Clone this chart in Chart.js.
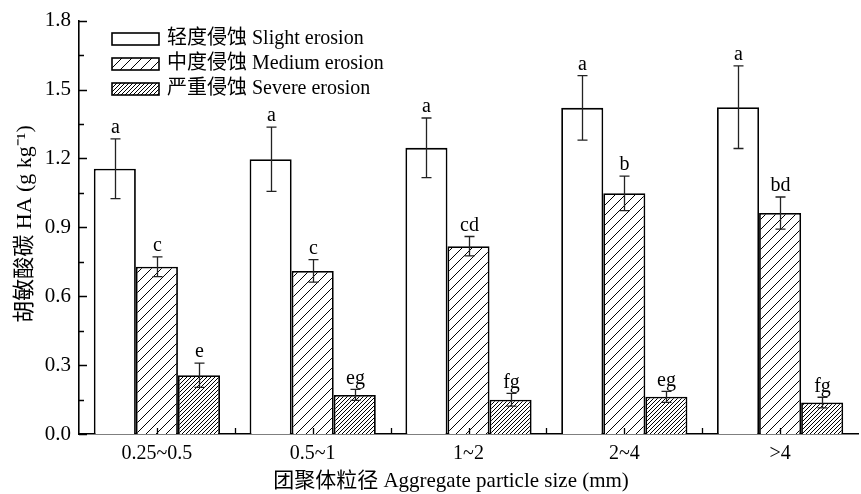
<!DOCTYPE html>
<html>
<head>
<meta charset="utf-8">
<script src="https://cdn.jsdelivr.net/npm/chart.js@4/dist/chart.umd.min.js"></script>
<style>
    html, body { margin: 0; padding: 0; background: #fff; }
    canvas { display: block; }
</style>
</head>
<body>
<canvas id="chart" width="861" height="494"></canvas>
<script>
const categories = ["0.25~0.5", "0.5~1", "1~2", "2~4", ">4"];

const slight = [1.155, 1.196, 1.246, 1.420, 1.423];
const slightErr = [0.13, 0.14, 0.13, 0.14, 0.18];
const slightLetters = ["a", "a", "a", "a", "a"];

const medium = [0.728, 0.710, 0.818, 1.048, 0.962];
const mediumErr = [0.043, 0.049, 0.042, 0.075, 0.070];
const mediumLetters = ["c", "c", "cd", "b", "bd"];

const severe = [0.256, 0.170, 0.149, 0.162, 0.137];
const severeErr = [0.053, 0.024, 0.028, 0.024, 0.023];
const severeLetters = ["e", "eg", "fg", "eg", "fg"];

const seriesLabels = ["轻度侵蚀 Slight erosion", "中度侵蚀 Medium erosion", "严重侵蚀 Severe erosion"];
const yTicks = [0, 0.3, 0.6, 0.9, 1.2, 1.5, 1.8];

const errors = [slightErr, mediumErr, severeErr];
const letters = [slightLetters, mediumLetters, severeLetters];

const FONT = "'Liberation Serif', 'Times New Roman', 'Noto Sans CJK SC', serif";

function hatch(step) {
    const c = document.createElement("canvas");
    c.width = step;
    c.height = step;
    const g = c.getContext("2d");
    g.fillStyle = "#fff";
    g.fillRect(0, 0, step, step);
    g.strokeStyle = "#000";
    g.lineWidth = 1;
    g.beginPath();
    g.moveTo(-1, step + 1);
    g.lineTo(step + 1, -1);
    g.moveTo(-1, 1);
    g.lineTo(1, -1);
    g.moveTo(step - 1, step + 1);
    g.lineTo(step + 1, step - 1);
    g.stroke();
    return g.createPattern(c, "repeat");
}

const fills = ["#ffffff", hatch(10), hatch(4)];

const axisTicks = {
    id: "axisTicks",
    afterDatasetsDraw(chart) {
        const ctx = chart.ctx;
        const x = chart.scales.x;
        const y = chart.scales.y;
        const area = chart.chartArea;
        ctx.save();
        ctx.strokeStyle = "#000";
        ctx.lineWidth = 1.3;
        ctx.beginPath();
        // y ticks, pointing inward
        for (let i = 0; i < yTicks.length; i++) {
            const py = Math.round(y.getPixelForValue(yTicks[i])) + 0.5;
            ctx.moveTo(area.left, py);
            ctx.lineTo(area.left + 8, py);
            if (i < yTicks.length - 1) {
                const my = Math.round(y.getPixelForValue(yTicks[i] + 0.15)) + 0.5;
                ctx.moveTo(area.left, my);
                ctx.lineTo(area.left + 5, my);
            }
        }
        // x ticks at centres and boundaries
        const w = (area.right - area.left) / categories.length;
        for (let i = 0; i < categories.length; i++) {
            const cx = Math.round(x.getPixelForValue(i)) + 0.5;
            ctx.moveTo(cx, area.bottom);
            ctx.lineTo(cx, area.bottom - 6);
            if (i > 0) {
                const bx = Math.round(area.left + w * i) + 0.5;
                ctx.moveTo(bx, area.bottom);
                ctx.lineTo(bx, area.bottom - 6);
            }
        }
        ctx.stroke();
        ctx.restore();
    }
};

const errorBars = {
    id: "errorBars",
    afterDatasetsDraw(chart) {
        const ctx = chart.ctx;
        const y = chart.scales.y;
        ctx.save();
        ctx.strokeStyle = "#222";
        ctx.lineWidth = 1.3;
        ctx.fillStyle = "#000";
        ctx.font = "20px " + FONT;
        ctx.textAlign = "center";
        ctx.textBaseline = "bottom";
        chart.data.datasets.forEach((ds, i) => {
            const meta = chart.getDatasetMeta(i);
            meta.data.forEach((bar, j) => {
                const v = ds.data[j];
                const e = errors[i][j];
                const top = y.getPixelForValue(v + e);
                const bottom = y.getPixelForValue(v - e);
                const bx = Math.round(bar.x) + 0.5;
                ctx.beginPath();
                ctx.moveTo(bx, top);
                ctx.lineTo(bx, bottom);
                ctx.moveTo(bx - 5, top);
                ctx.lineTo(bx + 5, top);
                ctx.moveTo(bx - 5, bottom);
                ctx.lineTo(bx + 5, bottom);
                ctx.stroke();
                ctx.fillText(letters[i][j], bx, top - 1);
            });
        });
        ctx.restore();
    }
};

const legendAndTitles = {
    id: "legendAndTitles",
    afterDraw(chart) {
        const ctx = chart.ctx;
        ctx.save();
        ctx.fillStyle = "#000";
        ctx.font = "20px " + FONT;
        ctx.textBaseline = "middle";
        const rows = [39, 64, 89];
        chart.data.datasets.forEach((ds, i) => {
            ctx.fillStyle = ds.backgroundColor;
            ctx.fillRect(112, rows[i] - 6, 47, 12);
            ctx.strokeStyle = "#000";
            ctx.lineWidth = 1.6;
            ctx.strokeRect(112, rows[i] - 6, 47, 12);
            ctx.fillStyle = "#000";
            ctx.textAlign = "left";
            ctx.fillText(ds.label, 167, rows[i]);
        });

        ctx.textAlign = "center";
        ctx.font = "21px " + FONT;
        ctx.fillText("团聚体粒径 Aggregate particle size (mm)", 451, 481);

        ctx.font = "22px " + FONT;
        ctx.translate(25, 224);
        ctx.rotate(-Math.PI / 2);
        ctx.fillText("胡敏酸碳 HA (g kg⁻¹)", 0, 0);
        ctx.restore();
    }
};

new Chart(document.getElementById("chart"), {
    type: "bar",
    data: {
        labels: categories,
        datasets: [slight, medium, severe].map((values, i) => ({
            label: seriesLabels[i],
            data: values,
            backgroundColor: fills[i],
            borderColor: "#000",
            borderWidth: 1.8,
            barPercentage: 1,
            categoryPercentage: 0.81
        }))
    },
    options: {
        responsive: false,
        animation: false,
        devicePixelRatio: 1,
        layout: { padding: { top: 19, right: 3, left: 0, bottom: 0 } },
        plugins: {
            legend: { display: false },
            tooltip: { enabled: false }
        },
        scales: {
            x: {
                type: "category",
                offset: true,
                grid: { display: false, drawTicks: false },
                border: { display: true, color: "#000", width: 1.6 },
                ticks: { color: "#000", font: { family: FONT, size: 20 }, padding: 8 },
                afterFit: scale => { scale.height = 60; }
            },
            y: {
                min: 0,
                max: 1.8,
                grid: { display: false, drawTicks: false },
                border: { display: true, color: "#000", width: 1.6 },
                ticks: {
                    stepSize: 0.3,
                    color: "#000",
                    font: { family: FONT, size: 21 },
                    padding: 8,
                    callback: v => v.toFixed(1)
                },
                afterFit: scale => { scale.width = 79; }
            }
        }
    },
    plugins: [axisTicks, errorBars, legendAndTitles]
});
</script>
</body>
</html>
